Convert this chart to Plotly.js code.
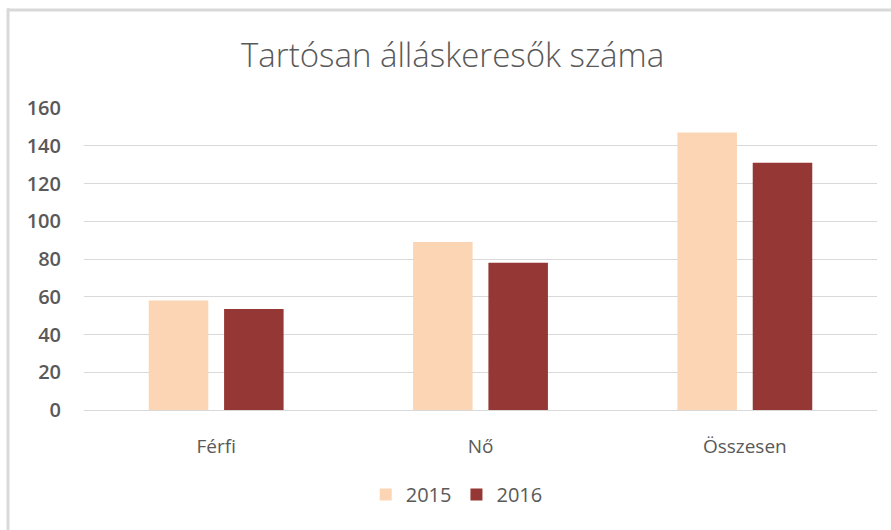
<!DOCTYPE html>
<html>
<head>
<meta charset="utf-8">
<script src="https://cdn.plot.ly/plotly-3.0.1.min.js"></script>
<style>html,body{margin:0;padding:0;background:#fff;} #chart{width:891px;height:530px;}</style>
</head>
<body>
<div id="chart"></div>
<script>
const categories = ["Férfi", "Nő", "Összesen"];
const seriesNames = ["2015", "2016"];
const values2015 = [58, 89, 147];
const values2016 = [53.5, 78, 131];
const yTicks = [0, 20, 40, 60, 80, 100, 120, 140, 160];

const textColor = "#595959";
const font = "'Open Sans', sans-serif";

const traces = [
  {type: "bar", name: seriesNames[0], x: categories, y: values2015, marker: {color: "#FCD5B5"}},
  {type: "bar", name: seriesNames[1], x: categories, y: values2016, marker: {color: "#953735"}}
];

const layout = {
  width: 891, height: 530,
  margin: {l: 84, r: 14, t: 108, b: 120},
  paper_bgcolor: "#fff", plot_bgcolor: "#fff",
  barmode: "group", bargap: 0.43, bargroupgap: 0.21,
  title: {text: "Tartósan álláskeresők száma", x: 0.508, xanchor: "center", y: 0.896, yanchor: "middle",
          font: {family: font, size: 33, color: textColor, weight: 300}},
  font: {family: font, color: textColor},
  xaxis: {type: "category", showgrid: false, showline: false, zeroline: false,
          ticks: "outside", ticklen: 19, tickcolor: "rgba(0,0,0,0)",
          tickfont: {size: 19, color: textColor}},
  yaxis: {range: [0, 160], tickvals: yTicks, showgrid: true, gridcolor: "#d9d9d9", gridwidth: 1,
          zeroline: true, zerolinecolor: "#d9d9d9", zerolinewidth: 1, showline: false,
          ticks: "outside", ticklen: 18, tickcolor: "rgba(0,0,0,0)",
          tickfont: {size: 20, color: textColor, weight: 600}},
  legend: {orientation: "h", x: 0.47, xanchor: "center", y: -0.28, yanchor: "middle",
           font: {size: 20, color: textColor}, itemwidth: 30, traceorder: "normal"},
  shapes: [
    {type: "line", xref: "paper", yref: "paper", x0: -0.0958, x1: 1.03, y0: 1.3245, y1: 1.3245,
     line: {color: "#d9d9d9", width: 3}},
    {type: "line", xref: "paper", yref: "paper", x0: -0.0958, x1: -0.0958, y0: 1.33, y1: -0.42,
     line: {color: "#d9d9d9", width: 3}}
  ]
};

Plotly.newPlot("chart", traces, layout, {displayModeBar: false, staticPlot: true});
</script>
</body>
</html>
